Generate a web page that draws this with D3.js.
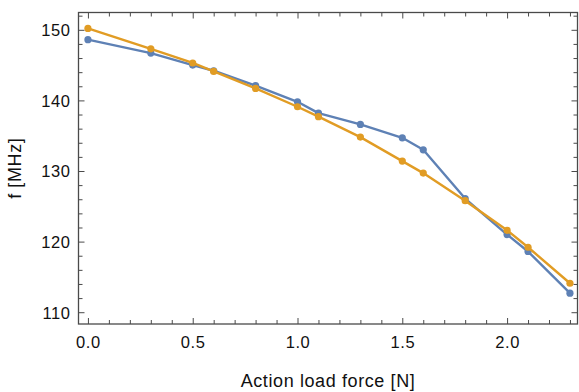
<!DOCTYPE html>
<html>
<head>
<meta charset="utf-8">
<script src="https://cdnjs.cloudflare.com/ajax/libs/d3/7.8.5/d3.min.js"></script>
<style>
  body { margin: 0; background: #fff; }
  text { font-family: "Liberation Sans", Arial, sans-serif; }
</style>
</head>
<body>
<div class="graph"></div>
<script>
const forceN = [0, 0.3, 0.5, 0.6, 0.8, 1.0, 1.1, 1.3, 1.5, 1.6, 1.8, 2.0, 2.1, 2.3];
const blueMHz = [148.6, 146.7, 145.0, 144.2, 142.1, 139.8, 138.2, 136.6, 134.7, 133.0, 126.1, 121.0, 118.6, 112.7];
const orangeMHz = [150.2, 147.3, 145.3, 144.1, 141.7, 139.1, 137.7, 134.8, 131.4, 129.7, 125.8, 121.6, 119.2, 114.1];
const xTicks = [0, 0.5, 1.0, 1.5, 2.0];
const yTicks = [110, 120, 130, 140, 150];

const width = 579, height = 392;
const margin = {left: 78.5, right: 1.5, top: 12.5, bottom: 68};

let svg = d3.select(".graph").append("svg")
    .attr("width", width)
    .attr("height", height);

let x = d3.scaleLinear().domain([-0.045, 2.336]).range([margin.left, width - margin.right]);
let y = d3.scaleLinear().domain([108.33, 152.45]).range([height - margin.bottom, margin.top]);

const axisColor = "#4a4a4a";
const fmt = d3.format(".1f");

// minor ticks every 0.1 / 2
let xMinor = d3.range(0, 2.31, 0.1).map(v => +v.toFixed(1));
let yMinor = d3.range(110, 152.1, 2);

function isMajor(v, list) { return list.some(t => Math.abs(t - v) < 1e-6); }

// bottom axis
svg.append("g")
    .attr("transform", "translate(0," + y.range()[0] + ")")
    .call(d3.axisBottom(x).tickValues(xMinor).tickSizeInner(0).tickSizeOuter(0)
        .tickFormat(d => isMajor(d, xTicks) ? fmt(d) : ""))
    .call(g => {
      g.select(".domain").remove();
      g.selectAll(".tick text").attr("dy", 0).attr("y", 24).attr("font-size", 16.5)
        .attr("letter-spacing", 0.6).attr("fill", "#111");
      g.selectAll(".tick line").attr("y2", d => isMajor(d, xTicks) ? -6 : -4).attr("stroke", axisColor);
    });

// top axis
svg.append("g")
    .attr("transform", "translate(0," + y.range()[1] + ")")
    .call(d3.axisTop(x).tickValues(xMinor).tickSizeInner(0).tickSizeOuter(0).tickFormat(""))
    .call(g => {
      g.select(".domain").remove();
      g.selectAll(".tick line").attr("y2", d => isMajor(d, xTicks) ? 6 : 4).attr("stroke", axisColor);
    });

// left axis
svg.append("g")
    .attr("transform", "translate(" + x.range()[0] + ",0)")
    .call(d3.axisLeft(y).tickValues(yMinor).tickSizeInner(0).tickSizeOuter(0)
        .tickFormat(d => isMajor(d, yTicks) ? d : ""))
    .call(g => {
      g.select(".domain").remove();
      g.selectAll(".tick text").attr("x", -8).attr("dy", "0.36em").attr("font-size", 16.5)
        .attr("letter-spacing", 0.6).attr("fill", "#111");
      g.selectAll(".tick line").attr("x2", d => isMajor(d, yTicks) ? 6 : 4).attr("stroke", axisColor);
    });

// right axis
svg.append("g")
    .attr("transform", "translate(" + x.range()[1] + ",0)")
    .call(d3.axisRight(y).tickValues(yMinor).tickSizeInner(0).tickSizeOuter(0).tickFormat(""))
    .call(g => {
      g.select(".domain").remove();
      g.selectAll(".tick line").attr("x2", d => isMajor(d, yTicks) ? -6 : -4).attr("stroke", axisColor);
    });

// frame
svg.append("rect")
    .attr("x", x.range()[0]).attr("y", y.range()[1])
    .attr("width", x.range()[1] - x.range()[0])
    .attr("height", y.range()[0] - y.range()[1])
    .attr("fill", "none").attr("stroke", axisColor).attr("stroke-width", 1.3);

// series
const series = [
  {vals: blueMHz, color: "#5E81B5"},
  {vals: orangeMHz, color: "#E19C24"}
];

let line = d3.line().x(d => x(d[0])).y(d => y(d[1]));

series.forEach(s => {
  let pts = forceN.map((f, i) => [f, s.vals[i]]);
  svg.append("path")
      .datum(pts)
      .attr("d", line)
      .attr("fill", "none")
      .attr("stroke", s.color)
      .attr("stroke-width", 2.4)
      .attr("stroke-linejoin", "round");
  svg.selectAll(null)
      .data(pts)
      .enter().append("circle")
      .attr("cx", d => x(d[0]))
      .attr("cy", d => y(d[1]))
      .attr("r", 3.6)
      .attr("fill", s.color);
});

// axis titles
svg.append("text")
    .attr("x", (x.range()[0] + x.range()[1]) / 2)
    .attr("y", 387)
    .attr("text-anchor", "middle")
    .attr("font-size", 18)
    .attr("letter-spacing", 0.6)
    .attr("fill", "#111")
    .text("Action load force [N]");

svg.append("text")
    .attr("transform", "translate(21," + (y.range()[0] + y.range()[1]) / 2 + ") rotate(-90)")
    .attr("text-anchor", "middle")
    .attr("font-size", 18)
    .attr("letter-spacing", 0.6)
    .attr("fill", "#111")
    .text("f [MHz]");
</script>
</body>
</html>
